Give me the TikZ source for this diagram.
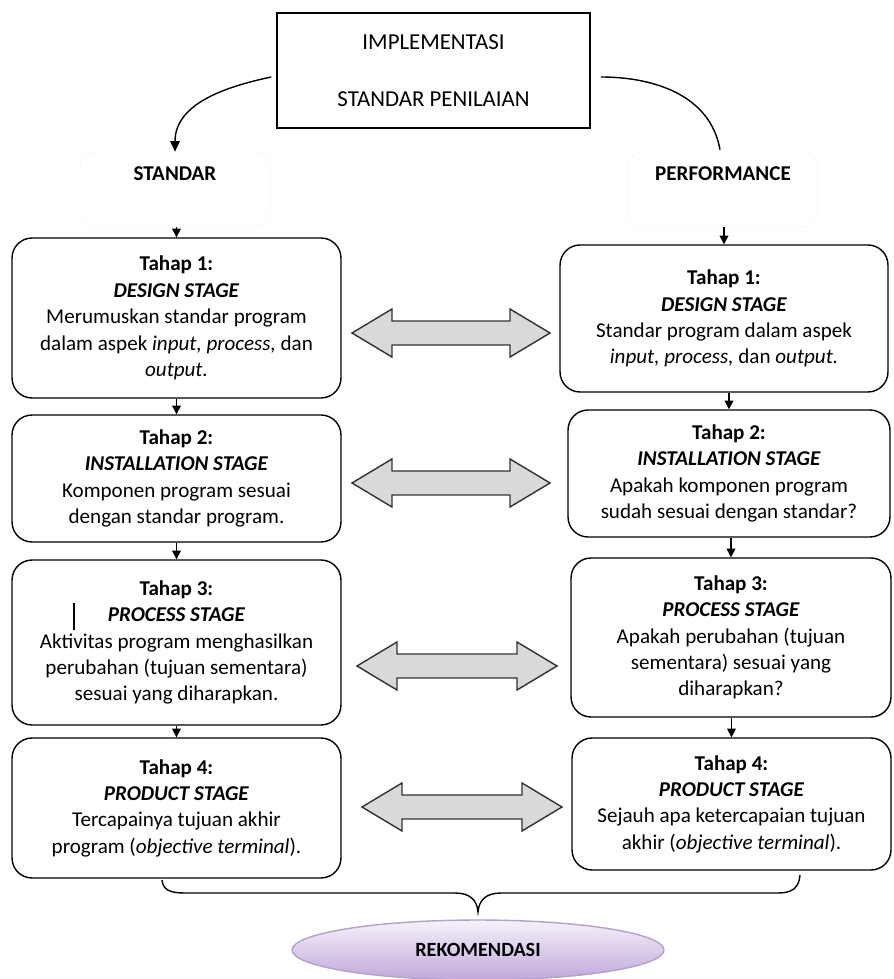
\documentclass[tikz,border=0pt]{standalone}
\usepackage{fontspec}
\setmainfont{Carlito}
\usetikzlibrary{arrows.meta,shapes.geometric}

\tikzset{
  stage/.style={draw, line width=0.8pt, rounded corners=0.4cm, align=center,
    inner sep=2pt, font=\fontsize{12}{15}\selectfont},
  ghost/.style={draw=black!3, rounded corners=0.3cm, minimum width=3.8cm,
    minimum height=1.5cm, text height=0.2cm, text depth=0.54cm,
    font=\bfseries\fontsize{12}{14}\selectfont},
  down/.style={-{Triangle[length=5pt,width=5pt]}, line width=0.8pt},
  twoway/.style={draw=black!80, fill=black!15, line width=0.8pt},
}

% grey two-headed block arrow: left tip x, right tip x, y
\newcommand\dblarrow[3]{%
  \draw[twoway] (#1,#3) -- ({#1+40},{#3-24}) -- ({#1+40},{#3-12})
    -- ({#2-40},{#3-12}) -- ({#2-40},{#3-24}) -- (#2,#3)
    -- ({#2-40},{#3+24}) -- ({#2-40},{#3+12}) -- ({#1+40},{#3+12})
    -- ({#1+40},{#3+24}) -- cycle;}

\begin{document}
\begin{tikzpicture}[x=0.02cm,y=-0.02cm]
\useasboundingbox (0,0) rectangle (893,979);

% top
\node[draw, line width=1pt, minimum width=6.26cm, minimum height=2.3cm,
  align=center, font=\fontsize{13}{15.6}\selectfont] (top) at (433.5,70.5)
  {IMPLEMENTASI\\[17pt]STANDAR PENILAIAN};

\node[ghost] (std) at (175,189.5) {STANDAR};
\node[ghost] (perf) at (723,189.5) {PERFORMANCE};

\draw[-{Triangle[length=6pt,width=5.5pt]}, line width=0.8pt]
  ([xshift=-0.1cm,yshift=-0.13cm]top.west) to[out=192,in=90] (std.north);
\draw[line width=0.8pt]
  ([xshift=0.2cm,yshift=-0.13cm]top.east) to[out=0,in=100]
  ([xshift=-0.06cm,yshift=0.04cm]perf.north);

% standar column
\node[stage, minimum width=6.58cm, minimum height=3.2cm] (b1l) at (176.5,318)
  {\textbf{Tahap 1:}\\ \textbf{\textit{DESIGN STAGE}}\\ Merumuskan standar program\\
   dalam aspek \textit{input, process,} dan\\ \textit{output.}};
\node[stage, minimum width=6.58cm, minimum height=2.54cm] (b2l) at (176.5,478.5)
  {\textbf{Tahap 2:}\\ \textbf{\textit{INSTALLATION STAGE}}\\ Komponen program sesuai\\
   dengan standar program.};
\node[stage, minimum width=6.58cm, minimum height=3.3cm] (b3l) at (176.5,642.5)
  {\textbf{Tahap 3:}\\ \textbf{\textit{PROCESS STAGE}}\\ Aktivitas program menghasilkan\\
   perubahan (tujuan sementara)\\ sesuai yang diharapkan.};
\node[stage, minimum width=6.58cm, minimum height=2.8cm] (b4l) at (176.5,808)
  {\textbf{Tahap 4:}\\ \textbf{\textit{PRODUCT STAGE}}\\ Tercapainya tujuan akhir\\
   program (\textit{objective terminal}).};

% performance column
\node[stage, minimum width=6.56cm, minimum height=2.94cm] (b1r) at (724,318.5)
  {\textbf{Tahap 1:}\\ \textbf{\textit{DESIGN STAGE}}\\ Standar program dalam aspek\\
   \textit{input, process,} dan \textit{output.}};
\node[stage, minimum width=6.44cm, minimum height=2.54cm] (b2r) at (729,473.5)
  {\textbf{Tahap 2:}\\ \textbf{\textit{INSTALLATION STAGE}}\\ Apakah komponen program\\
   sudah sesuai dengan standar?};
\node[stage, minimum width=6.4cm, minimum height=3.18cm] (b3r) at (731,637.5)
  {\textbf{Tahap 3:}\\ \textbf{\textit{PROCESS STAGE}}\\ Apakah perubahan (tujuan\\
   sementara) sesuai yang\\ diharapkan?};
\node[stage, minimum width=6.38cm, minimum height=2.64cm] (b4r) at (731.5,804)
  {\textbf{Tahap 4:}\\ \textbf{\textit{PRODUCT STAGE}}\\ Sejauh apa ketercapaian tujuan\\
   akhir (\textit{objective terminal}).};

\draw[line width=0.6pt] (74,603) -- (74,630);

% flow down
\draw[down] (b1l.north |- std.south) -- (b1l.north);
\draw[down] (b1r.north |- perf.south) -- (b1r.north);
\draw[down] (b1l) -- (b2l);
\draw[down] (b2l) -- (b3l);
\draw[down] (b3l) -- (b4l);
\draw[down] (b2r.north |- b1r.south) -- (b2r.north);
\draw[down] (b3r.north |- b2r.south) -- (b3r.north);
\draw[down] (b4r.north |- b3r.south) -- (b4r.north);

% comparisons
\dblarrow{352}{550}{333}
\dblarrow{352}{550}{483}
\dblarrow{357}{557}{666}
\dblarrow{362}{562}{807}

% brace and result
\draw[line width=0.8pt] (162,880) .. controls (163,890) and (170,893) .. (185,893)
  -- (455,893) .. controls (470,893) and (477,900) .. (478,912)
  .. controls (479,900) and (486,893) .. (501,893)
  -- (778,893) .. controls (792,893) and (799,888) .. (800,875);

\node[ellipse, draw={rgb,255:red,180;green,160;blue,205}, line width=0.8pt,
  top color={rgb,255:red,246;green,242;blue,251},
  bottom color={rgb,255:red,192;green,168;blue,218},
  minimum width=7.44cm, minimum height=1.2cm,
  font=\bfseries\fontsize{11.5}{14}\selectfont] (rek) at (478,950) {REKOMENDASI};

\end{tikzpicture}
\end{document}
